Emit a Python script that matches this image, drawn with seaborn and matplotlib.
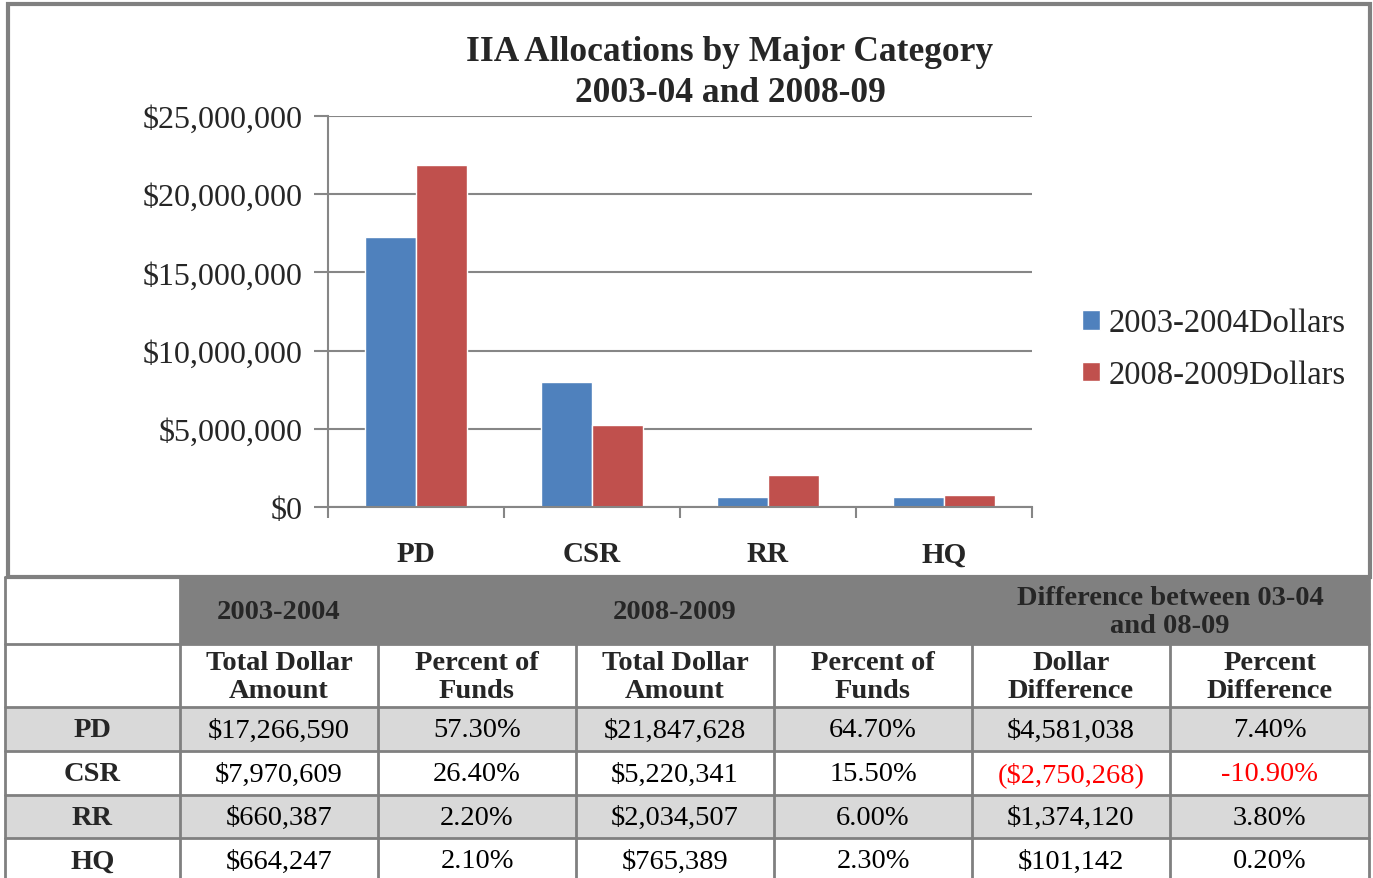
import pandas as pd
import matplotlib
matplotlib.use('Agg')
import matplotlib.pyplot as plt
import matplotlib.ticker as mticker
from matplotlib.patches import Rectangle
import seaborn as sns

# %%
# data
categories = ['PD', 'CSR', 'RR', 'HQ']
periods = ['2003-2004Dollars', '2008-2009Dollars']
dollars_0304 = [17266590, 7970609, 660387, 664247]
dollars_0809 = [21847628, 5220341, 2034507, 765389]
y_ticks = [0, 5000000, 10000000, 15000000, 20000000, 25000000]

table_head_top = ['2003-2004', '2008-2009', 'Difference between 03-04\nand 08-09']
table_head_cols = ['Total Dollar\nAmount', 'Percent of\nFunds', 'Total Dollar\nAmount',
                   'Percent of\nFunds', 'Dollar\nDifference', 'Percent\nDifference']
table_rows = [
    ['$17,266,590', '57.30%', '$21,847,628', '64.70%', '$4,581,038', '7.40%'],
    ['$7,970,609', '26.40%', '$5,220,341', '15.50%', '($2,750,268)', '-10.90%'],
    ['$660,387', '2.20%', '$2,034,507', '6.00%', '$1,374,120', '3.80%'],
    ['$664,247', '2.10%', '$765,389', '2.30%', '$101,142', '0.20%'],
]
negative_diff = [False, True, False, False]

df = pd.DataFrame({
    'category': categories * 2,
    'period': [periods[0]] * 4 + [periods[1]] * 4,
    'value': dollars_0304 + dollars_0809,
})

# %%
sns.set_theme(style='white')
plt.rcParams['font.family'] = ['Liberation Serif', 'DejaVu Serif']

W, H = 1373, 879
fig = plt.figure(figsize=(W / 100, H / 100), dpi=100)
fig.patch.set_facecolor('white')

# overlay in pixel coords for border and table
bg = fig.add_axes([0, 0, 1, 1])
bg.set_xlim(0, W)
bg.set_ylim(H, 0)
bg.axis('off')

grey_line = '#808080'
bg.add_patch(Rectangle((8, 5), 1362, 573, fill=False, ec=grey_line, lw=3))

# %%
# bar chart
ax = fig.add_axes([328 / W, 1 - 508 / H, 704 / W, 391 / H])
sns.barplot(data=df, x='category', y='value', hue='period',
            palette=['#4f81bd', '#c0504d'], saturation=1, width=0.575,
            ax=ax, legend=True)
ax.set_xlim(-0.5, 3.5)
ax.set_ylim(0, 25000000)
ax.set_yticks(y_ticks)
ax.yaxis.set_major_formatter(mticker.FuncFormatter(lambda v, p: f'${v:,.0f}'))
ax.yaxis.grid(True, color='#868686', lw=1.5)
ax.set_axisbelow(True)
ax.set_xlabel('')
ax.set_ylabel('')
for s in ['top', 'right']:
    ax.spines[s].set_visible(False)
for s in ['left', 'bottom']:
    ax.spines[s].set_color('#868686')
    ax.spines[s].set_linewidth(1.5)
ax.tick_params(axis='y', length=10, width=1.5, color='#868686', labelsize=23, pad=8, left=True)
ax.tick_params(axis='x', length=0, labelsize=21, pad=24)
ax.set_xticks([-0.5, 0.5, 1.5, 2.5, 3.5], minor=True)
ax.tick_params(axis='x', which='minor', length=8, width=1.5, color='#868686', bottom=True)
for t in ax.get_xticklabels():
    t.set_fontweight('bold')

ax.legend(loc='center left', bbox_to_anchor=(1069 / W, 1 - 350 / H),
          bbox_transform=fig.transFigure, frameon=False, fontsize=23.5,
          handlelength=0.55, handleheight=0.55, handletextpad=0.25,
          labelspacing=0.65, borderaxespad=0)

fig.text(730 / W, 1 - 73 / H, 'IIA Allocations by Major Category\n2003-04 and 2008-09',
         ha='center', va='center', fontsize=25.5, fontweight='bold', linespacing=1.3)

# %%
# table below the chart
xs = [5, 180, 378, 576, 774, 972, 1170, 1369]
ys = [578, 645, 708, 752, 796, 839, 883]
cx = [(xs[i] + xs[i + 1]) / 2 for i in range(len(xs) - 1)]
cy = [(ys[i] + ys[i + 1]) / 2 for i in range(len(ys) - 1)]

bg.add_patch(Rectangle((xs[1], ys[0]), xs[-1] - xs[1], ys[1] - ys[0], fc='#808080', ec='none'))
for r in range(4):
    if r % 2 == 0:
        bg.add_patch(Rectangle((xs[0], ys[r + 2]), xs[-1] - xs[0], ys[r + 3] - ys[r + 2],
                               fc='#d9d9d9', ec='none'))

for y in ys[:-1]:
    bg.plot([xs[0], xs[-1]], [y, y], color=grey_line, lw=2)
for i, x in enumerate(xs):
    y0 = ys[0] if i in (0, 1, len(xs) - 1) else ys[1]
    bg.plot([x, x], [y0, H], color=grey_line, lw=2)

fs = 20.5
bg.text(cx[1], cy[0] + 1, table_head_top[0], ha='center', va='center', fontsize=fs, fontweight='bold')
bg.text(cx[3], cy[0] + 1, table_head_top[1], ha='center', va='center', fontsize=fs, fontweight='bold')
bg.text(xs[6], cy[0] + 1, table_head_top[2], ha='center', va='center', fontsize=fs,
        fontweight='bold', linespacing=1.2)
for j, h in enumerate(table_head_cols):
    bg.text(cx[j + 1], cy[1] + 1, h, ha='center', va='center', fontsize=fs,
            fontweight='bold', linespacing=1.2)
for r, row in enumerate(table_rows):
    yc = cy[r + 2] + 1
    bg.text(cx[0], yc, categories[r], ha='center', va='center', fontsize=fs, fontweight='bold')
    for j, v in enumerate(row):
        col = 'red' if (negative_diff[r] and j >= 4) else 'black'
        bg.text(cx[j + 1], yc, v, ha='center', va='center', fontsize=fs, color=col)

fig.savefig('out.png', dpi=100, facecolor='white')
